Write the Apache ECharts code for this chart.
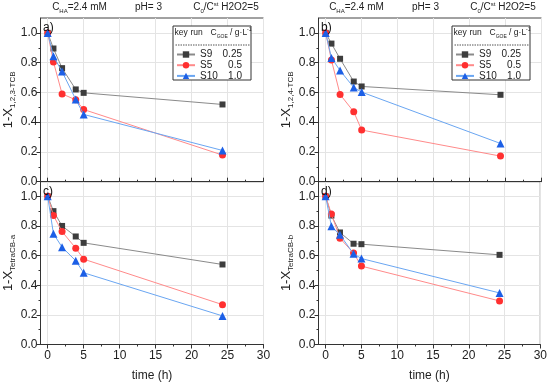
<!DOCTYPE html>
<html><head><meta charset="utf-8">
<script src="https://cdn.jsdelivr.net/npm/echarts@6/dist/echarts.min.js"></script>
<style>html,body{margin:0;padding:0;background:#fff}#c{width:550px;height:383px}</style>
</head><body><div id="c"></div>
<script>
// ---------- data ----------
const times = [0, 0.8, 2, 3.9, 5, 24.3];
const runNames = ['S9', 'S5', 'S10'];
const goeConc = ['0.25', '0.5', '1.0'];
const xTicks = [0, 5, 10, 15, 20, 25, 30];
const xMinorTicks = [2.5, 7.5, 12.5, 17.5, 22.5, 27.5];
const yTicks = [0, 0.2, 0.4, 0.6, 0.8, 1.0];
const yMinorTicks = [0.1, 0.3, 0.5, 0.7, 0.9];
const panelLabels = ['a)', 'b)', 'c)', 'd)'];
const panelSubs = ['1,2,3-TCB', '1,2,4-TCB', 'TetraCB-a', 'TetraCB-b'];

const panelA_S9  = [1.0, 0.895, 0.763, 0.620, 0.597, 0.519];
const panelA_S5  = [1.0, 0.805, 0.590, 0.550, 0.485, 0.179];
const panelA_S10 = [1.0, 0.843, 0.740, 0.553, 0.452, 0.210];
const panelB_S9  = [1.0, 0.928, 0.826, 0.673, 0.640, 0.584];
const panelB_S5  = [1.0, 0.817, 0.586, 0.470, 0.347, 0.172];
const panelB_S10 = [1.0, 0.832, 0.747, 0.633, 0.602, 0.257];
const panelC_S9  = [1.0, 0.900, 0.800, 0.729, 0.686, 0.540];
const panelC_S5  = [1.0, 0.870, 0.762, 0.650, 0.576, 0.269];
const panelC_S10 = [1.0, 0.747, 0.657, 0.565, 0.484, 0.193];
const panelD_S9  = [1.0, 0.870, 0.756, 0.680, 0.677, 0.605];
const panelD_S5  = [1.0, 0.881, 0.717, 0.617, 0.529, 0.294];
const panelD_S10 = [1.0, 0.798, 0.740, 0.612, 0.580, 0.348];

const panels = [
  [panelA_S9, panelA_S5, panelA_S10],
  [panelB_S9, panelB_S5, panelB_S10],
  [panelC_S9, panelC_S5, panelC_S10],
  [panelD_S9, panelD_S5, panelD_S10]
];

// ---------- styles ----------
const FONT = 'Liberation Sans, Arial, sans-serif';
const markerColors = ['#3d3d3d', '#ff3030', '#1c5fe6'];
const lineColors = ['#8a8a8a', '#ff8a8a', '#6aa6f2'];
const symbols = ['rect', 'circle', 'triangle'];
const symbolSizes = [6, 7, 8];

const gridPos = [
  {left: 40.5, top: 18, width: 223, height: 163.7},
  {left: 318.5, top: 18, width: 223, height: 163.7},
  {left: 40.5, top: 181.5, width: 223, height: 163},
  {left: 318.5, top: 181.5, width: 223, height: 163}
];

const grids = gridPos.map(p => Object.assign({show: true, borderColor: '#444', borderWidth: 1, backgroundColor: 'transparent', containLabel: false}, p));

const xAxes = [], yAxes = [], series = [];
for (let g = 0; g < 4; g++) {
  const bottomRow = g >= 2;
  xAxes.push({
    type: 'value', gridIndex: g, min: -1, max: 30, position: 'bottom',
    axisLine: {show: true, onZero: false, lineStyle: {color: '#333', width: 1}},
    axisTick: {show: true, customValues: xTicks, length: 4, inside: !bottomRow, lineStyle: {color: '#333'}},
    axisLabel: {show: bottomRow, customValues: xTicks, fontSize: 12, color: '#222', fontFamily: FONT, margin: 5},
    splitLine: {show: true, lineStyle: {color: '#e4e4e4', width: 1}},
    name: bottomRow ? 'time (h)' : '', nameLocation: 'middle', nameGap: 25,
    nameTextStyle: {fontSize: 12, color: '#222', fontFamily: FONT}
  });
  xAxes.push({
    type: 'value', gridIndex: g, min: -1, max: 30, position: 'bottom',
    axisLine: {show: false, onZero: false},
    axisTick: {show: true, customValues: xMinorTicks, length: 2, inside: !bottomRow, lineStyle: {color: '#333'}},
    axisLabel: {show: false}, splitLine: {show: false}
  });
  yAxes.push({
    type: 'value', gridIndex: g, min: 0, max: 1.1, position: 'left',
    axisLine: {show: true, onZero: false, lineStyle: {color: '#333', width: 1}},
    axisTick: {show: true, customValues: yTicks, length: 4, lineStyle: {color: '#333'}},
    axisLabel: {show: true, customValues: yTicks, fontSize: 12, color: '#222', fontFamily: FONT, margin: 3,
      formatter: v => v.toFixed(1)},
    splitLine: {show: true, lineStyle: {color: '#e4e4e4', width: 1}},
    name: '{m|1-X}{s|' + panelSubs[g] + '}', nameLocation: 'middle', nameGap: 24, nameRotate: 90,
    nameTextStyle: {
      fontFamily: FONT, color: '#222',
      rich: {
        m: {fontSize: 13, fontFamily: FONT, color: '#222', lineHeight: 16, verticalAlign: 'middle'},
        s: {fontSize: 8, fontFamily: FONT, color: '#222', lineHeight: 16, verticalAlign: 'bottom', padding: [6, 0, 0, 0]}
      }
    }
  });
  yAxes.push({
    type: 'value', gridIndex: g, min: 0, max: 1.1, position: 'left',
    axisLine: {show: false, onZero: false},
    axisTick: {show: true, customValues: yMinorTicks, length: 2, lineStyle: {color: '#333'}},
    axisLabel: {show: false}, splitLine: {show: false}
  });
  for (let r = 0; r < 3; r++) {
    series.push({
      name: runNames[r], type: 'line', xAxisIndex: 2 * g, yAxisIndex: 2 * g,
      data: times.map((t, i) => [t, panels[g][r][i]]),
      symbol: symbols[r], symbolSize: symbolSizes[r],
      itemStyle: {color: markerColors[r]},
      lineStyle: {color: lineColors[r], width: 1},
      animation: false, z: 2 + r
    });
  }
}

// legends (top panels)
const legendOffsets = [0, 279];
const concMap = {};
runNames.forEach((n, i) => concMap[n] = goeConc[i]);
const legends = legendOffsets.map(dx => ({
  show: true, orient: 'vertical', left: 176 + dx, top: 49.5, padding: 0,
  itemWidth: 18, itemHeight: 8, itemGap: 0.7,
  data: runNames, z: 6,
  formatter: name => '{n|' + name + '}{v|' + concMap[name] + '}',
  textStyle: {
    fontFamily: FONT, fontSize: 10, color: '#222',
    rich: {
      n: {width: 22, fontSize: 10, fontFamily: FONT, color: '#222', lineHeight: 10},
      v: {width: 20, align: 'right', fontSize: 10, fontFamily: FONT, color: '#222', lineHeight: 10}
    }
  },
  selectedMode: false
}));

// graphic annotations
const graphic = [];
const supSubRich = {
  m: {fontSize: 10, fontFamily: FONT, fill: '#222', lineHeight: 13, verticalAlign: 'middle'},
  sub: {fontSize: 6, fontFamily: FONT, fill: '#222', lineHeight: 13, verticalAlign: 'bottom'},
  sup: {fontSize: 6, fontFamily: FONT, fill: '#222', lineHeight: 13, verticalAlign: 'top'}
};
const topTexts = [
  {cx: 79.5, t: '{m|C}{sub|HA}{m|=2.4 mM}'},
  {cx: 148.5, t: '{m|pH= 3}'},
  {cx: 226, t: '{m|C}{sub|0}{m|/C}{sup|st}{m| H2O2=5}'}
];
[0, 277].forEach(dx => {
  topTexts.forEach(tt => {
    graphic.push({type: 'text', x: tt.cx + dx, y: 7.5, z: 10,
      style: {text: tt.t, rich: supSubRich, align: 'center', verticalAlign: 'middle', fontFamily: FONT, fontSize: 10, fill: '#222'}});
  });
});
// panel labels
const labelPos = [[43, 28], [321, 28], [43, 191.5], [321, 191.5]];
labelPos.forEach((p, i) => {
  graphic.push({type: 'text', x: p[0], y: p[1], z: 10,
    style: {text: panelLabels[i], fontFamily: FONT, fontSize: 12, fill: '#111', verticalAlign: 'middle'}});
});
// legend boxes & header
legendOffsets.forEach(dx => {
  graphic.push({type: 'rect', z: 4, shape: {x: 173 + dx, y: 26, width: 78, height: 54},
    style: {fill: '#fff', stroke: '#333', lineWidth: 1}});
  graphic.push({type: 'text', x: 174.5 + dx, y: 33, z: 7,
    style: {text: 'key', fontFamily: FONT, fontSize: 8.5, fill: '#222', verticalAlign: 'middle'}});
  graphic.push({type: 'text', x: 190.5 + dx, y: 33, z: 7,
    style: {text: 'run', fontFamily: FONT, fontSize: 8.5, fill: '#222', verticalAlign: 'middle'}});
  graphic.push({type: 'text', x: 210.5 + dx, y: 33, z: 7,
    style: {text: '{m|C}{sub|GOE}{m| / g·L}{sup|-1}', fontFamily: FONT, fontSize: 8.5, fill: '#222', verticalAlign: 'middle',
      rich: {
        m: {fontSize: 8.5, fontFamily: FONT, fill: '#222', lineHeight: 12, verticalAlign: 'middle'},
        sub: {fontSize: 5, fontFamily: FONT, fill: '#222', lineHeight: 12, verticalAlign: 'bottom'},
        sup: {fontSize: 5, fontFamily: FONT, fill: '#222', lineHeight: 12, verticalAlign: 'top'}
      }}});
  graphic.push({type: 'line', z: 7, shape: {x1: 175.5 + dx, y1: 45, x2: 250 + dx, y2: 45},
    style: {stroke: '#555', lineWidth: 1, lineDash: [1.5, 1]}});
});

const chart = echarts.init(document.getElementById('c'), null, {renderer: 'canvas'});
chart.setOption({
  animation: false,
  backgroundColor: '#fff',
  grid: grids, xAxis: xAxes, yAxis: yAxes, series: series,
  legend: legends, graphic: graphic
});
</script></body></html>
